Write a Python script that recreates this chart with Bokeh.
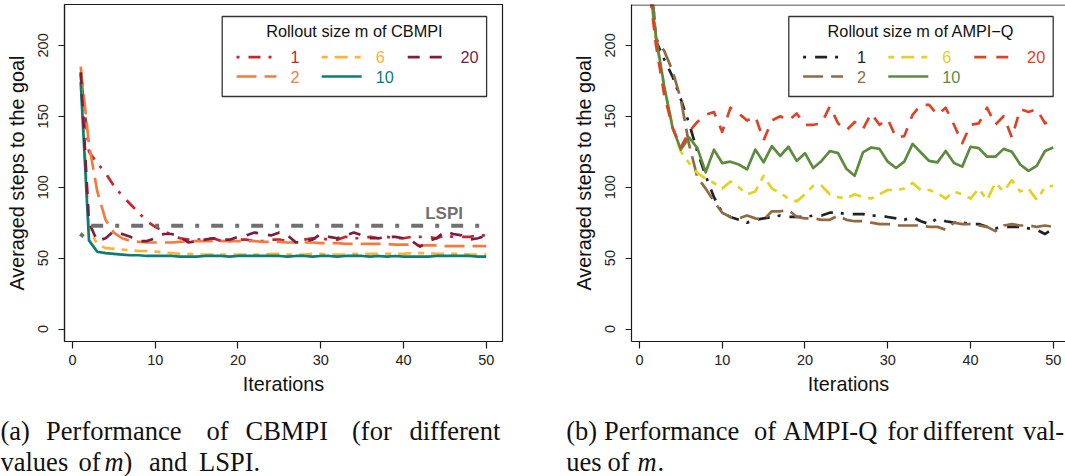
from bokeh.plotting import figure
from bokeh.models import Range1d, FixedTicker, Span
from bokeh.layouts import column, row
from bokeh.embed import file_html
from bokeh.resources import INLINE
from bokeh.core.properties import value

# ---------------- data ----------------
iterations = list(range(1, 51))
x_ticks = [0, 10, 20, 30, 40, 50]
y_ticks = [0, 50, 100, 150, 200]
m_labels = ["1", "2", "6", "10", "20"]

cbmpi_m1 = [180, 125, 117, 110, 101, 94, 88, 82, 76, 72, 69, 66.5, 64, 63, 63, 63, 64, 62, 62, 63,
            63, 62, 62, 63, 63, 62, 62, 63, 64, 64, 63, 63, 65, 64, 64, 65, 64, 65, 64, 64,
            65, 65, 65, 64, 66, 65, 65, 65, 66, 66]
cbmpi_m2 = [185, 130, 97, 77, 68, 64, 62, 61.5, 61, 61, 61, 61, 61.5, 62, 62, 62, 62, 62, 62, 62,
            62, 62, 61.5, 61.5, 61.5, 61, 61, 61, 61, 60.5, 60.5, 60.5, 60, 60, 60, 60, 60, 60, 59.5, 59.5,
            59.5, 59, 59, 59, 58.5, 58.5, 58.5, 58.5, 58.5, 58.5]
cbmpi_m6 = [180, 70, 60, 57, 56.5, 56, 55.5, 55, 55, 54.5, 54, 53.5, 53, 53, 52.5, 52.5, 52.5, 52.5, 52.5, 52.5,
            52.5, 52.5, 52.5, 53, 53, 52.5, 52.5, 52.5, 53, 53, 52.5, 52.5, 52.5, 53, 53, 53, 53, 53, 53, 53,
            53.5, 53.5, 53.5, 53, 53, 53, 53, 52.5, 52.5, 52.5]
cbmpi_m10 = [174, 62.5, 54.5, 53.5, 53, 52.5, 52, 52, 51.5, 51.5, 51.5, 51.5, 51, 51, 51, 51.5, 51.5, 51.5, 51, 51.5,
             51.5, 51.5, 51.5, 51.5, 51.5, 51, 51.5, 51.5, 51, 51.5, 51.5, 51, 51.5, 51.5, 51.5, 51, 51.5, 51, 51.5, 51,
             51, 51, 51, 51.5, 51.5, 51.5, 51.5, 51.5, 51, 51]
cbmpi_m20 = [181, 75, 62, 64, 69, 67, 65, 62, 62, 64, 67, 67, 65, 61, 62, 63, 64, 63, 63, 65,
             66, 68, 67, 66, 68, 66, 61, 62, 63, 67, 65, 64, 66, 68, 66, 64, 64, 65, 65, 64,
             62, 58, 62, 64, 69, 67, 66, 63, 64, 66]
lspi = [65, 72.8, 72.8, 72.8, 72.8, 72.8, 72.8, 72.8, 72.8, 72.8, 72.8, 72.8, 72.8, 72.8, 72.8, 72.8, 72.8,
        72.8, 72.8, 72.8, 72.8, 72.8, 72.8, 72.8, 72.8, 72.8, 72.8, 72.8, 72.8, 72.8, 72.8, 72.8, 72.8,
        72.8, 72.8, 72.8, 72.8, 72.8, 72.8, 72.8, 72.8, 72.8, 72.8, 72.8, 72.8, 72.8, 72.8, 72.8, 72.8, 72.8]
lspi_label = "LSPI"
lspi_label_pos = (44.9, 81.6)

ampi_m1 = [280, 203, 190, 178, 162, 145, 125, 108, 93, 82, 79, 77, 75, 77, 78, 79, 80, 79, 79, 79,
           80, 80, 82, 82, 81, 81, 81, 80, 80, 79, 78, 77, 79, 76, 74, 78, 76, 75, 75, 74,
           74, 72, 71, 72, 72, 72, 71, 70, 67, 71]
ampi_m2 = [275, 205, 196, 182, 162, 130, 107, 99, 90, 82, 79, 78, 80, 78, 77, 83, 83, 84, 79, 78,
           78, 77, 77, 80, 77, 76, 76, 75, 74, 74, 73, 73, 73, 73, 72, 72, 70, 75, 74, 74,
           73, 72, 69, 73, 74, 73, 73, 72, 73, 72]
ampi_m6 = [255, 203, 170, 143, 125, 117, 110, 106, 103, 99, 104, 100, 95, 97, 108, 99, 96, 92, 90, 95,
           101, 101, 95, 93, 92, 95, 93, 92, 95, 98, 98, 99, 103, 98, 98, 96, 92, 97, 95, 92,
           99, 91, 103, 97, 105, 97, 99, 91, 100, 101]
ampi_m10 = [252, 206, 171, 142, 126.5, 135, 127.5, 110.5, 126.5, 117, 118, 116, 112.5, 126.5, 117.5, 129, 122, 128.5, 118.5, 124,
            113.5, 118.5, 125.5, 124, 113, 108, 124.5, 128, 127, 118, 113.5, 118, 130.5, 124.5, 118.5, 117.5, 125.5, 117, 114.5, 128.5,
            127.5, 121.5, 121.5, 127, 125, 116, 111.5, 115, 125.5, 128]
ampi_m20 = [250, 200, 165, 142, 128, 139, 146, 151, 153, 139, 156, 152, 147, 150, 133, 147, 150, 147, 152, 144,
            144, 145, 157, 145, 140, 146, 141, 152, 144, 148, 135, 136, 151, 158, 158, 151, 156, 144, 131, 144,
            145, 156, 144, 150, 135, 155, 153, 155, 145, 148]

# ---------------- styles ----------------
FONT = "Liberation Sans"
SERIF = "Liberation Serif"
DOTDASH, LONGDASH, TWODASH, DASHED, SOLID = "3 9 12 8", "20 8", "6 7 13 7", "12 10", "solid"
LW = 2.7

cb_styles = {"1": ("#C1272D", DOTDASH), "2": ("#F47B3E", LONGDASH), "6": ("#FDB338", TWODASH),
             "10": ("#0B7D77", SOLID), "20": ("#7C1C3E", DASHED)}
am_styles = {"1": ("#222222", DOTDASH), "2": ("#8F6B45", LONGDASH), "6": ("#E5D21F", TWODASH),
             "10": ("#5C8B3E", SOLID), "20": ("#DE4226", DASHED)}
LSPI_COLOR = "#707070"

# layout (pixels); the page is drawn from the top-left corner
X_START = -0.96
PX_PER_X = 8.277
Y_START, Y_END = -8.8, 228.8
FRAME_H = 337
TOP, BOTTOM = 4, 67
PY = FRAME_H / (Y_END - Y_START)
P1_LEFT, P1_FW, P1_RIGHT = 64, 438, 16
P2_LEFT, P2_FW = 113, 434
PLOT_H = TOP + FRAME_H + BOTTOM


class Conv:
    def __init__(self, frame_left_screen):
        self.fl = frame_left_screen
        self.ft = TOP

    def x(self, sx):
        return X_START + (sx - self.fl) / PX_PER_X

    def y(self, sy):
        return Y_END - (sy - self.ft) / PY


def make_fig(frame_w, min_left, min_right, outline):
    x_end = X_START + frame_w / PX_PER_X
    p = figure(frame_width=frame_w, frame_height=FRAME_H,
               x_range=Range1d(X_START, x_end), y_range=Range1d(Y_START, Y_END),
               toolbar_location=None, output_backend="svg", title=None,
               min_border_left=min_left, min_border_right=min_right,
               min_border_top=TOP, min_border_bottom=BOTTOM)
    p.grid.visible = False
    p.background_fill_color = "white"
    p.border_fill_color = "white"
    p.outline_line_color = "#1a1a1a" if outline else None
    p.outline_line_width = 1.2
    p.xaxis.ticker = FixedTicker(ticks=x_ticks)
    p.yaxis.ticker = FixedTicker(ticks=y_ticks)
    p.axis.major_tick_in = 0
    p.axis.minor_tick_in = 0
    p.axis.minor_tick_out = 0
    p.xaxis.major_tick_out = 7
    p.yaxis.major_tick_out = 6
    p.axis.axis_line_color = "#1a1a1a"
    p.axis.axis_line_width = 1.2
    p.axis.major_tick_line_color = "#1a1a1a"
    p.axis.major_tick_line_width = 1.2
    p.axis.major_label_text_font = FONT
    p.axis.major_label_text_font_size = "14.5px"
    p.axis.major_label_text_color = "#222222"
    p.axis.axis_label_text_font = FONT
    p.axis.axis_label_text_font_size = "19.8px"
    p.axis.axis_label_text_font_style = "normal"
    p.axis.axis_label_text_color = "#111111"
    p.yaxis.major_label_orientation = "vertical"
    p.xaxis.axis_label = "Iterations"
    p.yaxis.axis_label = "Averaged steps to the goal"
    p.xaxis.major_label_standoff = 6
    p.xaxis.axis_label_standoff = 5
    p.yaxis.major_label_standoff = 10
    p.yaxis.axis_label_standoff = 8
    return p


def draw_legend(p, conv, box_left, title, styles):
    bl, br, bt, bb = box_left, box_left + 264.4, 16, 96
    p.quad(left=[conv.x(bl)], right=[conv.x(br)], top=[conv.y(bt)], bottom=[conv.y(bb)],
           fill_color="white", line_color="#333333", line_width=1.3)
    p.text(x=[conv.x((bl + br) / 2)], y=[conv.y(30.7)], text=[title],
           text_font=value(FONT), text_font_size="16.3px", text_color="#111111",
           text_align="center", text_baseline="middle")
    places = {"1": (0, 0), "6": (1, 0), "20": (2, 0), "2": (0, 1), "10": (1, 1)}
    sample_off = [14.3, 99.5, 185.5]
    label_off = [68.3, 153.5, 238.3]
    rows = [56.7, 76.0]
    for lab in m_labels:
        col, r = places[lab]
        color, dash = styles[lab]
        y = conv.y(rows[r])
        x0 = conv.x(bl + sample_off[col])
        x1 = conv.x(bl + sample_off[col] + 40)
        p.line([x0, x1], [y, y], line_color=color, line_width=LW, line_dash=dash)
        p.text(x=[conv.x(bl + label_off[col])], y=[y], text=[lab],
               text_font=value(FONT), text_font_size="16.3px", text_color=color,
               text_align="left", text_baseline="middle")


# ---------------- left panel: CBMPI ----------------
p1 = make_fig(P1_FW, P1_LEFT, P1_RIGHT, True)
conv1 = Conv(P1_LEFT)
cb_series = {"1": cbmpi_m1, "2": cbmpi_m2, "6": cbmpi_m6, "10": cbmpi_m10, "20": cbmpi_m20}
for lab in m_labels:
    color, dash = cb_styles[lab]
    p1.line(iterations, cb_series[lab], line_color=color, line_width=LW, line_dash=dash,
            line_join="round")
p1.line(iterations, lspi, line_color=LSPI_COLOR, line_width=4.2, line_dash="4 12 12 12",
        line_join="round")
p1.text(x=[lspi_label_pos[0]], y=[lspi_label_pos[1]], text=[lspi_label],
        text_font=value(FONT), text_font_size="17px", text_font_style="bold",
        text_color=LSPI_COLOR, text_align="center", text_baseline="middle")
draw_legend(p1, conv1, 221.7, "Rollout size m of CBMPI", cb_styles)

# ---------------- right panel: AMPI-Q ----------------
p2 = make_fig(P2_FW, P2_LEFT, 0, False)
conv2 = Conv(P1_LEFT + P1_FW + P1_RIGHT + P2_LEFT)
am_series = {"1": ampi_m1, "2": ampi_m2, "6": ampi_m6, "10": ampi_m10, "20": ampi_m20}
for lab in m_labels:
    color, dash = am_styles[lab]
    p2.line(iterations, am_series[lab], line_color=color, line_width=LW, line_dash=dash,
            line_join="round")
draw_legend(p2, conv2, 788.3, "Rollout size m of AMPI\u2212Q", am_styles)
p2.add_layout(Span(location=Y_END - 0.35, dimension="width", line_color="#1a1a1a", line_width=1.2))

# ---------------- captions ----------------
CAP_W = P1_LEFT + P1_FW + P1_RIGHT + P2_LEFT + P2_FW
CAP_H = 476 - PLOT_H
CAP_TOP = PLOT_H
cap = figure(width=CAP_W, height=CAP_H, x_range=Range1d(0, CAP_W), y_range=Range1d(CAP_H, 0),
             toolbar_location=None, output_backend="svg", title=None,
             x_axis_location=None, y_axis_location=None, min_border=0)
cap.grid.visible = False
cap.outline_line_color = None
cap.background_fill_color = "white"
cap.border_fill_color = "white"

L1, L2 = 430, 461   # vertical centres of the two caption lines
pieces = [
    ("(a)", 0, L1, "normal"), ("Performance", 45.6, L1, "normal"), ("of", 206, L1, "normal"),
    ("CBMPI", 245, L1, "normal"), ("(for", 351.5, L1, "normal"), ("different", 409, L1, "normal"),
    ("values", 0, L2, "normal"), ("of", 78, L2, "normal"), ("m", 104, L2, "italic"),
    (")", 123, L2, "normal"), ("and", 148.6, L2, "normal"), ("LSPI.", 198.6, L2, "normal"),
    ("(b)", 565.8, L1, "normal"), ("Performance", 603.4, L1, "normal"), ("of", 753.5, L1, "normal"),
    ("AMPI-Q", 782.6, L1, "normal"), ("for", 886.7, L1, "normal"), ("different", 922.5, L1, "normal"),
    ("val-", 1022.5, L1, "normal"),
    ("ues", 565.8, L2, "normal"), ("of", 607, L2, "normal"), ("m", 637, L2, "italic"),
    (".", 657, L2, "normal"),
]
for style in ("normal", "italic"):
    sel = [pc for pc in pieces if pc[3] == style]
    cap.text(x=[pc[1] for pc in sel], y=[pc[2] - CAP_TOP for pc in sel], text=[pc[0] for pc in sel],
             text_font=value(SERIF), text_font_size="26.5px", text_font_style=style,
             text_color="#111111", text_align="left", text_baseline="middle")

layout = column(row(p1, p2, spacing=0), cap, spacing=0)
open("out.html", "w").write(file_html(layout, INLINE))
